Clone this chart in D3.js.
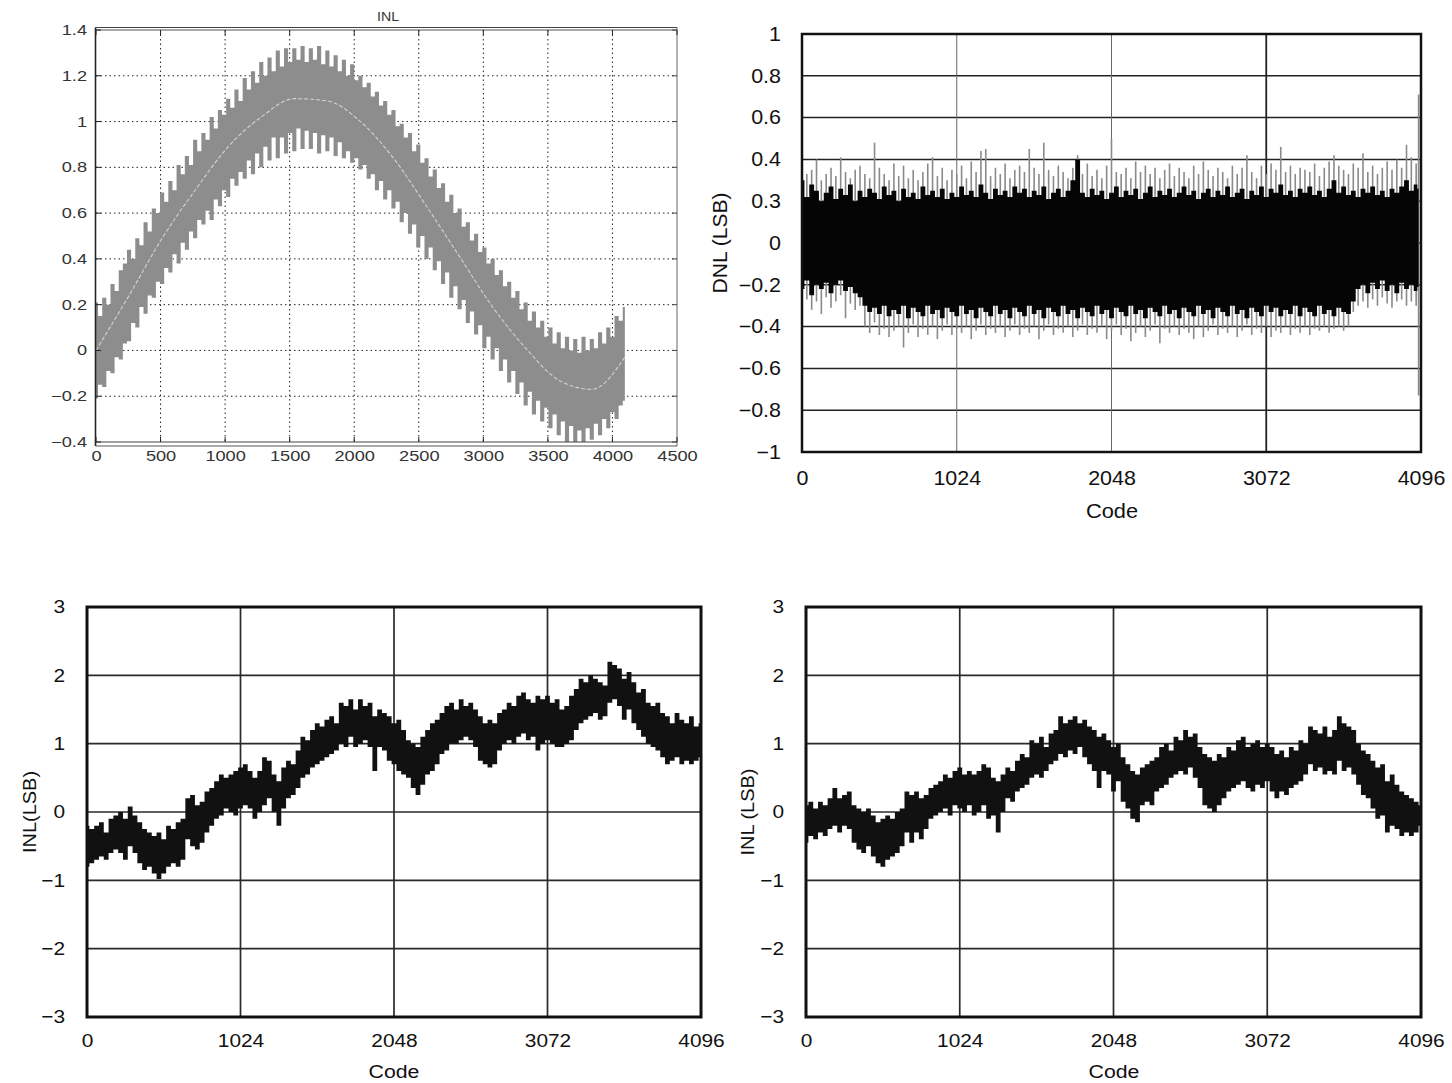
<!DOCTYPE html>
<html>
<head>
<meta charset="utf-8">
<script src="https://cdn.jsdelivr.net/npm/d3@7"></script>
<style>
  html, body { margin: 0; padding: 0; background: #fff; }
  svg { display: block; }
</style>
</head>
<body>
<svg id="chart" width="1452" height="1083"></svg>
<script>
// ---------------- data ----------------
// Sample codes (every 32 codes) for the envelope traces
const codes = d3.range(0, 4097, 32);
const dnlCodes = d3.range(0, 4096, 32).concat([4080]);

// Top-left: INL sweep (gray band) with its fitted trend line
const inlSweepTrendCodes = [0, 256, 512, 768, 1024, 1280, 1536, 1792, 2048, 2304, 2560, 2816, 3072, 3328, 3584, 3840, 4095];
const inlSweepTrend = [0.00, 0.24, 0.49, 0.70, 0.89, 1.02, 1.10, 1.09, 1.00, 0.84, 0.63, 0.41, 0.19, 0.01, -0.13, -0.17, -0.03];
const inlSweepHi = [
  0.21,0.15,0.23,0.20,0.29,0.26,0.35,0.38,0.44,0.40,0.49,0.46,0.56,0.52,0.62,0.60,
  0.69,0.65,0.74,0.70,0.81,0.77,0.85,0.81,0.92,0.87,0.95,0.92,1.02,0.97,1.05,1.03,
  1.10,1.06,1.14,1.09,1.19,1.14,1.22,1.17,1.26,1.20,1.28,1.22,1.31,1.24,1.32,1.26,
  1.32,1.27,1.33,1.26,1.32,1.27,1.33,1.25,1.31,1.24,1.29,1.22,1.27,1.20,1.25,1.18,
  1.20,1.15,1.17,1.11,1.13,1.07,1.09,1.03,1.05,0.98,0.99,0.93,0.95,0.87,0.90,0.82,
  0.84,0.76,0.79,0.71,0.73,0.65,0.68,0.60,0.62,0.54,0.56,0.48,0.51,0.43,0.45,0.38,
  0.40,0.33,0.35,0.28,0.30,0.23,0.26,0.18,0.21,0.13,0.17,0.10,0.13,0.06,0.10,0.03,
  0.08,0.01,0.06,0.00,0.05,-0.01,0.06,0.00,0.05,0.01,0.08,0.03,0.10,0.06,0.15,0.13,
  0.19];
const inlSweepLo = [
  -0.21,-0.15,-0.16,-0.09,-0.10,-0.03,-0.04,0.03,0.04,0.12,0.10,0.19,0.16,0.24,0.23,0.30,
  0.29,0.36,0.34,0.42,0.38,0.47,0.44,0.52,0.49,0.57,0.55,0.61,0.57,0.66,0.63,0.70,
  0.67,0.75,0.72,0.78,0.75,0.83,0.77,0.86,0.80,0.89,0.83,0.93,0.84,0.93,0.86,0.95,
  0.87,0.97,0.88,0.96,0.88,0.95,0.86,0.94,0.87,0.93,0.85,0.91,0.84,0.87,0.82,0.84,
  0.79,0.81,0.75,0.77,0.70,0.74,0.66,0.70,0.62,0.65,0.56,0.60,0.51,0.55,0.45,0.50,
  0.40,0.45,0.35,0.39,0.29,0.34,0.23,0.28,0.18,0.22,0.12,0.17,0.07,0.11,0.01,0.06,
  -0.04,0.01,-0.09,-0.04,-0.14,-0.09,-0.19,-0.14,-0.24,-0.18,-0.28,-0.22,-0.31,-0.25,-0.34,-0.28,
  -0.37,-0.31,-0.40,-0.33,-0.41,-0.35,-0.40,-0.34,-0.39,-0.32,-0.37,-0.30,-0.34,-0.27,-0.30,-0.24,
  -0.22];

// Top-right: DNL, dense black core and lighter outer peaks
const dnlHi = [
  0.30,0.22,0.28,0.25,0.20,0.24,0.27,0.21,0.26,0.23,0.28,0.20,0.25,0.22,0.26,0.24,
  0.21,0.27,0.23,0.25,0.20,0.26,0.22,0.24,0.21,0.27,0.23,0.25,0.22,0.26,0.21,0.24,
  0.22,0.27,0.23,0.25,0.22,0.28,0.24,0.21,0.26,0.23,0.25,0.22,0.27,0.24,0.26,0.22,
  0.25,0.23,0.27,0.21,0.24,0.26,0.22,0.25,0.30,0.40,0.24,0.22,0.26,0.23,0.25,0.21,
  0.24,0.27,0.22,0.25,0.23,0.26,0.21,0.24,0.27,0.22,0.25,0.23,0.26,0.22,0.24,0.27,
  0.23,0.25,0.21,0.24,0.26,0.22,0.25,0.23,0.27,0.22,0.24,0.26,0.21,0.25,0.23,0.27,
  0.22,0.26,0.24,0.28,0.23,0.25,0.22,0.26,0.24,0.27,0.23,0.25,0.22,0.26,0.30,0.24,
  0.27,0.23,0.25,0.22,0.26,0.24,0.27,0.23,0.25,0.22,0.26,0.24,0.27,0.30,0.25,0.28,
  0.26];
const dnlLo = [
  -0.22,-0.18,-0.25,-0.20,-0.22,-0.19,-0.24,-0.20,-0.18,-0.23,-0.21,-0.24,-0.26,-0.30,-0.33,-0.31,
  -0.34,-0.30,-0.35,-0.32,-0.34,-0.30,-0.36,-0.31,-0.33,-0.35,-0.30,-0.34,-0.32,-0.36,-0.31,-0.33,
  -0.35,-0.30,-0.34,-0.32,-0.36,-0.31,-0.33,-0.35,-0.30,-0.34,-0.32,-0.36,-0.31,-0.33,-0.35,-0.30,
  -0.34,-0.32,-0.36,-0.31,-0.33,-0.35,-0.30,-0.34,-0.32,-0.36,-0.31,-0.33,-0.35,-0.30,-0.34,-0.32,
  -0.36,-0.31,-0.33,-0.35,-0.30,-0.34,-0.32,-0.36,-0.31,-0.33,-0.35,-0.30,-0.34,-0.32,-0.36,-0.31,
  -0.33,-0.35,-0.30,-0.34,-0.32,-0.36,-0.31,-0.33,-0.35,-0.30,-0.34,-0.32,-0.36,-0.31,-0.33,-0.35,
  -0.30,-0.33,-0.31,-0.35,-0.32,-0.34,-0.30,-0.35,-0.31,-0.33,-0.35,-0.30,-0.34,-0.32,-0.35,-0.31,
  -0.33,-0.34,-0.28,-0.22,-0.20,-0.24,-0.19,-0.22,-0.18,-0.23,-0.20,-0.24,-0.19,-0.22,-0.20,-0.23,
  -0.21];
const dnlPeakHi = [
  0.38,0.33,0.35,0.40,0.30,0.33,0.36,0.32,0.41,0.34,0.31,0.35,0.37,0.33,0.31,0.48,
  0.36,0.33,0.30,0.38,0.32,0.37,0.31,0.35,0.30,0.34,0.38,0.41,0.32,0.36,0.30,0.35,
  0.33,0.37,0.31,0.39,0.34,0.44,0.45,0.32,0.36,0.33,0.38,0.31,0.35,0.37,0.34,0.45,
  0.36,0.33,0.48,0.35,0.32,0.37,0.34,0.31,0.36,0.42,0.33,0.38,0.32,0.35,0.31,0.37,
  0.50,0.34,0.33,0.36,0.31,0.39,0.34,0.37,0.33,0.36,0.31,0.35,0.38,0.32,0.36,0.34,
  0.31,0.37,0.33,0.39,0.35,0.32,0.36,0.34,0.31,0.37,0.33,0.36,0.42,0.34,0.31,0.37,
  0.33,0.38,0.35,0.46,0.34,0.37,0.33,0.36,0.35,0.34,0.38,0.32,0.36,0.39,0.42,0.37,
  0.35,0.33,0.38,0.36,0.43,0.34,0.37,0.33,0.36,0.39,0.35,0.40,0.36,0.47,0.41,0.38,
  0.71];
const dnlPeakLo = [
  -0.30,-0.27,-0.32,-0.28,-0.34,-0.26,-0.31,-0.28,-0.25,-0.36,-0.29,-0.32,-0.30,-0.40,-0.43,-0.38,
  -0.44,-0.41,-0.45,-0.42,-0.40,-0.50,-0.43,-0.39,-0.45,-0.41,-0.44,-0.40,-0.46,-0.42,-0.39,-0.44,
  -0.41,-0.43,-0.40,-0.46,-0.42,-0.39,-0.44,-0.41,-0.43,-0.40,-0.45,-0.42,-0.39,-0.44,-0.41,-0.43,
  -0.40,-0.46,-0.42,-0.39,-0.44,-0.41,-0.43,-0.40,-0.45,-0.42,-0.39,-0.44,-0.41,-0.43,-0.40,-0.46,
  -0.42,-0.39,-0.44,-0.41,-0.47,-0.43,-0.40,-0.45,-0.42,-0.39,-0.48,-0.41,-0.43,-0.40,-0.44,-0.41,
  -0.43,-0.46,-0.40,-0.45,-0.42,-0.39,-0.44,-0.41,-0.43,-0.40,-0.45,-0.42,-0.39,-0.44,-0.41,-0.43,
  -0.40,-0.45,-0.42,-0.43,-0.40,-0.44,-0.41,-0.43,-0.40,-0.44,-0.41,-0.42,-0.40,-0.43,-0.41,-0.40,
  -0.42,-0.40,-0.33,-0.30,-0.28,-0.31,-0.27,-0.30,-0.26,-0.29,-0.31,-0.28,-0.27,-0.30,-0.28,-0.30,
  -0.73];

// Bottom-left: INL (LSB), device A
const inlAHi = [
  -0.2,-0.25,-0.2,-0.15,-0.3,-0.1,-0.05,0.0,-0.1,0.08,-0.05,-0.15,-0.25,-0.3,-0.35,-0.3,
  -0.4,-0.2,-0.25,-0.15,-0.1,0.2,0.25,0.1,0.15,0.3,0.35,0.45,0.55,0.5,0.55,0.6,
  0.65,0.7,0.6,0.5,0.6,0.8,0.75,0.55,0.45,0.65,0.75,0.7,0.9,1.1,1.05,1.2,
  1.3,1.25,1.35,1.4,1.3,1.6,1.55,1.65,1.5,1.65,1.55,1.6,1.4,1.5,1.45,1.4,
  1.3,1.35,1.2,1.05,1.0,0.95,1.1,1.2,1.3,1.35,1.45,1.55,1.6,1.5,1.65,1.55,
  1.6,1.5,1.4,1.3,1.35,1.3,1.45,1.5,1.6,1.55,1.7,1.75,1.65,1.6,1.7,1.65,
  1.7,1.6,1.65,1.5,1.55,1.7,1.8,1.95,1.9,2.0,1.95,1.9,1.85,2.2,2.15,2.1,
  1.95,2.05,1.9,1.75,1.8,1.6,1.55,1.6,1.45,1.4,1.3,1.45,1.35,1.3,1.4,1.25,
  1.3];
const inlALo = [
  -0.8,-0.75,-0.7,-0.65,-0.7,-0.6,-0.55,-0.6,-0.7,-0.5,-0.6,-0.75,-0.85,-0.8,-0.9,-0.98,
  -0.9,-0.8,-0.75,-0.8,-0.7,-0.4,-0.5,-0.55,-0.45,-0.3,-0.2,-0.1,-0.05,0.05,0.0,-0.05,
  0.05,0.1,0.05,-0.1,0.0,0.1,0.2,0.0,-0.2,0.05,0.2,0.25,0.35,0.5,0.55,0.65,
  0.7,0.75,0.8,0.85,0.9,1.0,0.95,1.1,0.95,1.0,1.05,0.95,0.6,0.95,0.9,0.75,
  0.7,0.6,0.55,0.5,0.35,0.25,0.4,0.55,0.6,0.7,0.85,0.9,1.0,1.0,1.05,1.1,
  1.05,0.95,0.75,0.7,0.65,0.7,0.9,1.0,1.05,1.0,1.1,1.15,1.05,1.1,0.9,1.0,
  1.05,1.0,0.95,0.95,1.0,1.05,1.2,1.3,1.35,1.4,1.45,1.35,1.4,1.6,1.65,1.55,
  1.35,1.5,1.3,1.2,1.1,1.0,0.95,0.9,0.8,0.7,0.75,0.8,0.7,0.75,0.7,0.75,
  0.8];

// Bottom-right: INL (LSB), device B
const inlBHi = [
  0.1,0.15,0.05,0.15,0.1,0.2,0.35,0.2,0.25,0.3,0.1,0.05,0.0,0.05,-0.05,-0.15,
  -0.1,-0.05,-0.1,0.0,0.05,0.3,0.25,0.3,0.2,0.25,0.35,0.4,0.45,0.55,0.5,0.6,
  0.65,0.55,0.6,0.55,0.6,0.7,0.65,0.5,0.45,0.55,0.65,0.6,0.75,0.85,0.8,1.05,
  1.0,1.1,0.95,1.15,1.2,1.4,1.3,1.35,1.4,1.3,1.35,1.25,1.2,1.1,1.15,1.05,
  0.95,1.0,0.8,0.7,0.6,0.55,0.65,0.7,0.75,0.8,0.95,1.0,0.9,1.1,1.05,1.2,
  1.1,1.15,0.95,0.85,0.8,0.75,0.85,0.8,0.95,0.9,1.05,1.1,0.95,1.0,1.05,0.95,
  1.0,0.95,0.85,0.9,0.8,0.95,0.9,1.05,1.0,1.25,1.2,1.15,1.25,1.1,1.2,1.4,
  1.3,1.25,1.2,1.0,0.9,0.85,0.75,0.65,0.7,0.45,0.55,0.4,0.3,0.25,0.2,0.15,
  0.1];
const inlBLo = [
  -0.45,-0.35,-0.4,-0.3,-0.35,-0.25,-0.2,-0.3,-0.2,-0.25,-0.45,-0.55,-0.6,-0.5,-0.65,-0.75,
  -0.8,-0.7,-0.65,-0.6,-0.5,-0.3,-0.45,-0.3,-0.4,-0.25,-0.1,-0.05,0.0,0.05,-0.05,0.1,
  0.05,0.0,0.1,-0.05,0.0,0.1,-0.1,-0.05,-0.3,0.0,0.2,0.15,0.3,0.35,0.4,0.5,
  0.55,0.5,0.6,0.7,0.75,0.85,0.8,0.9,0.85,0.95,0.8,0.7,0.6,0.35,0.6,0.55,
  0.3,0.45,0.15,0.05,-0.1,-0.15,0.1,0.15,0.1,0.3,0.35,0.4,0.5,0.55,0.6,0.55,
  0.65,0.5,0.35,0.1,0.05,0.0,0.1,0.2,0.3,0.35,0.4,0.45,0.35,0.3,0.4,0.35,
  0.45,0.3,0.2,0.3,0.25,0.35,0.4,0.45,0.55,0.7,0.6,0.65,0.55,0.6,0.55,0.75,
  0.6,0.65,0.55,0.4,0.25,0.2,0.05,-0.1,-0.05,-0.3,-0.2,-0.25,-0.35,-0.3,-0.35,-0.3,
  -0.2];

// Axis ticks and labels
const sweepXTicks = [0, 500, 1000, 1500, 2000, 2500, 3000, 3500, 4000, 4500];
const sweepYTicks = [1.4, 1.2, 1, 0.8, 0.6, 0.4, 0.2, 0, -0.2, -0.4];
const codeTicks = [0, 1024, 2048, 3072, 4096];
const dnlYTicks = [1, 0.8, 0.6, 0.4, 0.2, 0, -0.2, -0.4, -0.6, -0.8, -1];
const dnlYLabels = ["1", "0.8", "0.6", "0.4", "0.3", "0", "\u22120.2", "\u22120.4", "\u22120.6", "\u22120.8", "\u22121"];
const inlYTicks = [3, 2, 1, 0, -1, -2, -3];

// ---------------- drawing ----------------
const FONT = '"Liberation Sans", Arial, Helvetica, sans-serif';
const svg = d3.select("#chart");
const minus = v => String(v).replace("-", "\u2212");

function rows(cs, hi, lo) {
  return cs.map((c, i) => ({ code: c, hi: hi[i], lo: lo[i] }));
}
// strip axis rules, set type, and widen glyphs horizontally
function styleAxis(g, size, color, sx) {
  g.select(".domain").remove();
  g.selectAll(".tick line").remove();
  g.selectAll("text").attr("font-family", FONT).attr("font-size", size).attr("fill", color)
    .each(function () {
      const t = d3.select(this);
      const x0 = +t.attr("x") || 0;
      t.attr("x", x0 / sx).attr("transform", `scale(${sx},1)`);
    });
}
function label(x, y, txt, size, sx, rotate, color) {
  svg.append("text")
    .attr("transform", `translate(${x},${y})${rotate ? " rotate(-90)" : ""} scale(${sx},1)`)
    .attr("text-anchor", "middle").attr("font-family", FONT).attr("font-size", size)
    .attr("fill", color || "#111").text(txt);
}
function clipFor(id, x0, y0, x1, y1) {
  svg.append("clipPath").attr("id", id).append("rect")
    .attr("x", x0).attr("y", y0).attr("width", x1 - x0).attr("height", y1 - y0);
  return "url(#" + id + ")";
}

// ---- Panel 1: INL sweep (MATLAB-style plot) ----
(function () {
  const L = 96, R = 677, T = 30, B = 442;
  const x = d3.scaleLinear().domain([0, 4500]).range([L, R]);
  const y = d3.scaleLinear().domain([-0.4, 1.4]).range([B, T]);
  const g = svg.append("g");

  // dotted grid
  g.selectAll(null).data(sweepXTicks.slice(1, -1)).join("line")
    .attr("x1", d => x(d)).attr("x2", d => x(d)).attr("y1", T).attr("y2", B)
    .attr("stroke", "#222").attr("stroke-width", 1).attr("stroke-dasharray", "1.5,3");
  g.selectAll(null).data(sweepYTicks.slice(1, -1)).join("line")
    .attr("x1", L).attr("x2", R).attr("y1", d => y(d)).attr("y2", d => y(d))
    .attr("stroke", "#222").attr("stroke-width", 1).attr("stroke-dasharray", "1.5,3");

  // gray band
  const band = d3.area().curve(d3.curveStep)
    .x(d => x(d.code)).y0(d => y(d.lo)).y1(d => y(d.hi));
  g.append("path").datum(rows(codes, inlSweepHi, inlSweepLo))
    .attr("d", band).attr("fill", "#8d8d8d")
    .attr("clip-path", clipFor("clip1", L, T, R, B));

  // light trend line
  const trend = d3.line().curve(d3.curveMonotoneX)
    .x((d, i) => x(inlSweepTrendCodes[i])).y(d => y(d));
  g.append("path").datum(inlSweepTrend).attr("d", trend)
    .attr("fill", "none").attr("stroke", "#d2d2d2").attr("stroke-width", 1.1)
    .attr("stroke-dasharray", "4,2");

  // frame (double rules top and bottom)
  g.append("line").attr("x1", L - 0.5).attr("x2", L - 0.5).attr("y1", T - 2.5).attr("y2", B + 4)
    .attr("stroke", "#222").attr("stroke-width", 1.6);
  g.append("line").attr("x1", R).attr("x2", R).attr("y1", T - 2.5).attr("y2", B + 4)
    .attr("stroke", "#666").attr("stroke-width", 1);
  [[T - 2.5, "#444"], [T, "#555"], [B, "#444"], [B + 4, "#555"]].forEach(([yy, c]) => {
    g.append("line").attr("x1", L - 0.5).attr("x2", R).attr("y1", yy).attr("y2", yy)
      .attr("stroke", c).attr("stroke-width", 1.2);
  });
  // inward ticks
  sweepYTicks.forEach(v => {
    g.append("line").attr("x1", L).attr("x2", L + 5).attr("y1", y(v)).attr("y2", y(v)).attr("stroke", "#222");
    g.append("line").attr("x1", R - 5).attr("x2", R).attr("y1", y(v)).attr("y2", y(v)).attr("stroke", "#444");
  });
  sweepXTicks.forEach(v => {
    g.append("line").attr("x1", x(v)).attr("x2", x(v)).attr("y1", T).attr("y2", T + 5).attr("stroke", "#222");
    g.append("line").attr("x1", x(v)).attr("x2", x(v)).attr("y1", B - 5).attr("y2", B).attr("stroke", "#222");
  });

  // tick labels
  g.append("g").attr("transform", `translate(${L},0)`)
    .call(d3.axisLeft(y).tickValues(sweepYTicks).tickFormat(minus).tickSize(0).tickPadding(9))
    .call(s => styleAxis(s, 14, "#333", 1.3));
  g.append("g").attr("transform", `translate(0,${B})`)
    .call(d3.axisBottom(x).tickValues(sweepXTicks).tickFormat(d => String(d)).tickSize(0).tickPadding(9))
    .call(s => styleAxis(s, 14, "#333", 1.3));

  label(388, 21, "INL", 13.5, 1.05, false, "#333");
})();

// ---- Panel 2: DNL ----
(function () {
  const L = 802, R = 1421, T = 34, B = 452;
  const x = d3.scaleLinear().domain([0, 4096]).range([L, R]);
  const y = d3.scaleLinear().domain([-1, 1]).range([B, T]);
  const g = svg.append("g");

  g.selectAll(null).data(dnlYTicks.slice(1, -1)).join("line")
    .attr("x1", L).attr("x2", R).attr("y1", d => y(d)).attr("y2", d => y(d))
    .attr("stroke", "#222").attr("stroke-width", 1.5);
  g.selectAll(null).data(codeTicks.slice(1, -1)).join("line")
    .attr("x1", d => x(d)).attr("x2", d => x(d)).attr("y1", T).attr("y2", B)
    .attr("stroke", d => d === 3072 ? "#222" : "#6a6a6a")
    .attr("stroke-width", d => d === 3072 ? 1.8 : 1);

  const clip = clipFor("clip2", L, T, R, B);
  const data = rows(dnlCodes, dnlHi, dnlLo);
  const peaks = rows(dnlCodes, dnlPeakHi, dnlPeakLo);
  g.append("g").attr("clip-path", clip).selectAll("line").data(peaks).join("line")
    .attr("x1", d => x(d.code)).attr("x2", d => x(d.code))
    .attr("y1", d => y(d.lo)).attr("y2", d => y(d.hi))
    .attr("stroke", "#8a8a8a").attr("stroke-width", 1.6);
  const band = d3.area().curve(d3.curveStep)
    .x(d => x(d.code)).y0(d => y(d.lo)).y1(d => y(d.hi));
  g.append("path").datum(data).attr("d", band).attr("fill", "#050505").attr("clip-path", clip);

  g.append("rect").attr("x", L).attr("y", T).attr("width", R - L).attr("height", B - T)
    .attr("fill", "none").attr("stroke", "#111").attr("stroke-width", 2.5);

  g.append("g").attr("transform", `translate(${L},0)`)
    .call(d3.axisLeft(y).tickValues(dnlYTicks).tickFormat((d, i) => dnlYLabels[i]).tickSize(0).tickPadding(21))
    .call(s => styleAxis(s, 19.5, "#111", 1.1));
  g.append("g").attr("transform", `translate(0,${B})`)
    .call(d3.axisBottom(x).tickValues(codeTicks).tickFormat(d => String(d)).tickSize(0).tickPadding(19))
    .call(s => styleAxis(s, 19.5, "#111", 1.1));

  label(1112, 518, "Code", 19.5, 1.12);
  label(727, 243, "DNL (LSB)", 19.5, 1.08, true);
})();

// ---- Panels 3 & 4: INL (LSB) ----
function inlPanel(id, L, R, hi, lo, yTitle, titleX, codeX) {
  const T = 607, B = 1017;
  const x = d3.scaleLinear().domain([0, 4096]).range([L, R]);
  const y = d3.scaleLinear().domain([-3, 3]).range([B, T]);
  const g = svg.append("g");

  g.selectAll(null).data(inlYTicks.slice(1, -1)).join("line")
    .attr("x1", L).attr("x2", R).attr("y1", d => y(d)).attr("y2", d => y(d))
    .attr("stroke", "#2a2a2a").attr("stroke-width", 1.7);
  g.selectAll(null).data(codeTicks.slice(1, -1)).join("line")
    .attr("x1", d => x(d)).attr("x2", d => x(d)).attr("y1", T).attr("y2", B)
    .attr("stroke", "#2a2a2a").attr("stroke-width", 1.7);

  const band = d3.area().curve(d3.curveStep)
    .x(d => x(d.code)).y0(d => y(d.lo)).y1(d => y(d.hi));
  g.append("path").datum(rows(codes, hi, lo)).attr("d", band)
    .attr("fill", "#111").attr("clip-path", clipFor(id, L, T, R, B));

  g.append("rect").attr("x", L).attr("y", T).attr("width", R - L).attr("height", B - T)
    .attr("fill", "none").attr("stroke", "#111").attr("stroke-width", 3);

  g.append("g").attr("transform", `translate(${L},0)`)
    .call(d3.axisLeft(y).tickValues(inlYTicks).tickFormat(minus).tickSize(0).tickPadding(22))
    .call(s => styleAxis(s, 18.5, "#111", 1.13));
  g.append("g").attr("transform", `translate(0,${B})`)
    .call(d3.axisBottom(x).tickValues(codeTicks).tickFormat(d => String(d)).tickSize(0).tickPadding(17))
    .call(s => styleAxis(s, 18.5, "#111", 1.13));

  label(codeX, 1078, "Code", 18.5, 1.15);
  label(titleX, 812, yTitle, 18.5, 1.08, true);
}
inlPanel("clip3", 87, 701, inlAHi, inlALo, "INL(LSB)", 36, 394);
inlPanel("clip4", 806, 1421, inlBHi, inlBLo, "INL (LSB)", 754, 1114);
</script>
</body>
</html>
